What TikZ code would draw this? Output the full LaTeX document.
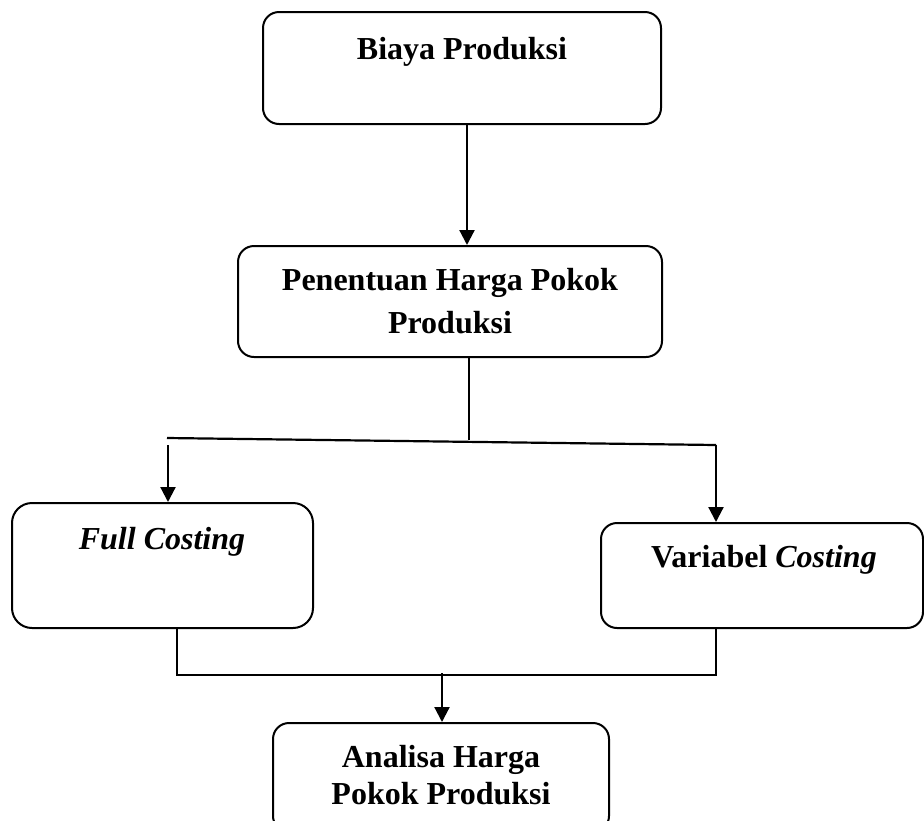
\documentclass[tikz,border=0pt]{standalone}
\usepackage{fontspec}
\setmainfont{Liberation Serif}
\usetikzlibrary{arrows.meta}
\tikzset{
  box/.style={draw=black, line width=2pt, rounded corners=16pt, inner sep=0pt},
  lbl/.style={font=\fontsize{32}{40}\selectfont\bfseries, inner sep=0pt, align=center},
  conn/.style={draw=black, line width=2.2pt},
  arr/.style={conn, -{Triangle[width=15pt,length=15pt]}}
}
\begin{document}
\begin{tikzpicture}[x=1pt,y=-1pt]
\useasboundingbox (0,0) rectangle (924,820);
\clip (0,0) rectangle (924,820);
% boxes
\node[box, minimum width=398pt, minimum height=112pt] (b1) at (462,68) {};
\node[box, minimum width=424pt, minimum height=111pt] (b2) at (450,301.5) {};
\node[box, rounded corners=20pt, minimum width=301pt, minimum height=125pt] (b3) at (162.5,565.5) {};
\node[box, minimum width=322pt, minimum height=105pt] (b4) at (762,575.5) {};
\node[box, minimum width=336pt, minimum height=109pt] (b5) at (441,777.5) {};
% texts
\node[lbl, anchor=base] (t1) at (462,59) {Biaya Produksi};
\node[lbl, font=\fontsize{32}{43}\selectfont\bfseries] (t2) at (450,301.5) {Penentuan Harga Pokok\\Produksi};
\node[lbl, anchor=base] (t3) at (162,549) {\textit{Full Costing}};
\node[lbl, anchor=base] (t4) at (764,567) {Variabel \textit{Costing}};
\node[lbl, font=\fontsize{32}{37}\selectfont\bfseries] (t5) at (441,775.5) {Analisa Harga\\Pokok Produksi};
% connectors
\coordinate (s1) at (467,124);
\draw[arr] (s1) -- (s1 |- b2.north);
\coordinate (s2) at (469,357);
\coordinate (j) at (469,440);
\draw[conn] (s2) -- (j);
\coordinate (hl) at (167,438);
\coordinate (hr) at (716,445);
\draw[conn] (hl) -- (hr);
\coordinate (a3) at (168,445);
\draw[arr] (a3) -- (a3 |- b3.north);
\draw[arr] (hr) -- (hr |- b4.north);
\coordinate (c3) at (177,675);
\coordinate (c4) at (716,675);
\draw[conn] (c3 |- b3.south) -- (c3) -- (c4) -- (c4 |- b4.south);
\coordinate (a5) at (442,673);
\draw[arr] (a5) -- (a5 |- b5.north);
\end{tikzpicture}
\end{document}
